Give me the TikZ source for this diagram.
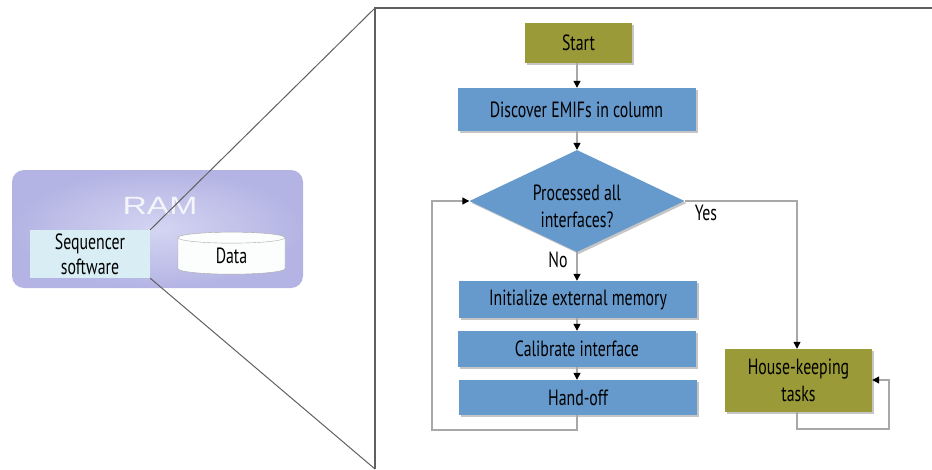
\documentclass[tikz,border=0pt]{standalone}
\usepackage{fontspec}
\setmainfont[FakeStretch=0.72]{PT Sans}
\newfontfamily\ramfont[FakeStretch=1.35]{Liberation Sans}
\usetikzlibrary{shapes.geometric,shadows,arrows.meta}
\definecolor{boxblue}{HTML}{6699CC}
\definecolor{olive}{HTML}{9A9A38}
\definecolor{lav}{HTML}{B4B4E4}
\definecolor{lavlight}{HTML}{D4D4F2}
\definecolor{seqcyan}{HTML}{D8EEF4}
\definecolor{linegray}{HTML}{A8A8A8}
\definecolor{framegray}{HTML}{606060}
\tikzset{
  txt/.style={font=\fontsize{22}{26}\selectfont, text=black},
  stepbox/.style={txt, draw=none, fill=boxblue, minimum width=238pt,
     drop shadow={shadow xshift=2pt, shadow yshift=-2pt, fill=black!45}},
  olivebox/.style={txt, draw=none, fill=olive, align=center,
     drop shadow={shadow xshift=2pt, shadow yshift=-2pt, fill=black!45}},
  conn/.style={draw=linegray, line width=1.2pt, -{Triangle[length=7pt,width=7pt,fill=black,color=black]}},
  lbl/.style={txt},
}
\begin{document}
\begin{tikzpicture}[x=1pt,y=-1pt]
\useasboundingbox (0,0) rectangle (932,469);
% RAM
\node[draw=none, rounded corners=12pt, minimum width=291pt, minimum height=118pt,
      inner color=lavlight, outer color=lav] (ram) at (157.5,229) {};
\node[text=white!85!lav, font=\ramfont\fontsize{25}{27}\selectfont] (ramlbl) at (160,206) {RAM};
\node[txt, fill=seqcyan, minimum width=120pt, minimum height=48pt, align=center,
      inner sep=0pt] (seq) at (90,254) {Sequencer\\[-1pt]software};
\node[txt, cylinder, shape border rotate=90, draw=linegray, fill=white!92!seqcyan, aspect=0.35,
      minimum width=107pt, minimum height=42pt, inner sep=0pt] (data) at (231.5,256) {Data};
% zoom frame
\coordinate (ftl) at (375,8);
\coordinate (ftr) at (932,8);
\coordinate (fbl) at (375,469);
\draw[framegray, line width=1.5pt] (ftr) -- (ftl) -- (fbl);
\draw[framegray, line width=1pt] (seq.north east) -- (ftl);
\draw[framegray, line width=1pt] (seq.south east) -- (fbl);
% flowchart
\node[olivebox, minimum width=107pt, minimum height=40pt] (start) at (578.5,43) {Start};
\node[stepbox, minimum height=43pt] (disc) at (576.5,109.5) {Discover EMIFs in column};
\node[diamond, fill=boxblue, minimum width=215pt, minimum height=102pt, inner sep=0pt, aspect=2.1,
      drop shadow={shadow xshift=2pt, shadow yshift=-2pt, fill=black!45}] (dec) at (577,201) {};
\node[txt, align=center] (dectxt) at (577,206) {Processed all\\[1pt]interfaces?};
\node[stepbox, minimum height=37pt] (init) at (578,299.5) {Initialize external memory};
\node[stepbox, minimum height=36pt] (cal) at (577,349) {Calibrate interface};
\node[stepbox, minimum height=35pt] (hand) at (578,397.5) {Hand-off};
\node[olivebox, minimum width=147pt, minimum height=63pt, inner sep=0pt] (house) at (798.5,380.5) {House-keeping\\[1pt]tasks};
\node[lbl] (yes) at (706,213) {Yes};
\node[lbl] (no) at (558,260) {No};
% connectors
\draw[conn] (start.south -| dec.north) -- (disc.north -| dec.north);
\draw[conn] (disc.south -| dec.north) -- (dec.north);
\draw[conn] (dec.south) -- (init.north -| dec.south);
\draw[conn] (init.south -| dec.south) -- (cal.north -| dec.south);
\draw[conn] (cal.south -| dec.south) -- (hand.north -| dec.south);
\coordinate (l1) at (577,430);
\coordinate (l2) at (432,430);
\draw[conn] (hand.south -| dec.south) -- (l1) -- (l2) |- (dec.west);
\coordinate (y1) at (797,201);
\draw[conn] (dec.east) -- (y1) -- (house.north -| y1);
\coordinate (h1) at (797,429);
\coordinate (h2) at (889,429);
\coordinate (h3) at (889,380);
\draw[conn] (house.south -| h1) -- (h1) -- (h2) -- (h3) -- (house.east |- h3);
\end{tikzpicture}
\end{document}
